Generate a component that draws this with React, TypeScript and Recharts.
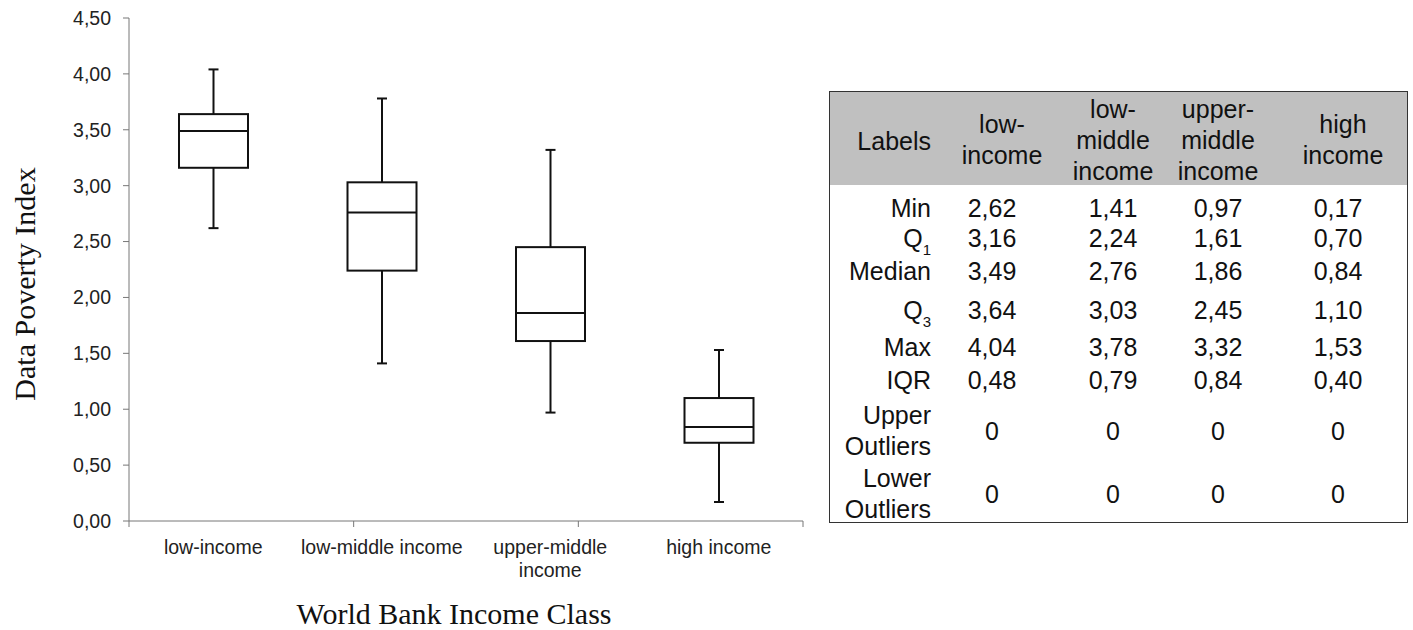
import { ComposedChart, Bar, XAxis, YAxis } from "recharts";

// box plot statistics per income class
const categories = ["low-income", "low-middle income", "upper-middle income", "high income"];
const tickLines = [["low-income"], ["low-middle income"], ["upper-middle", "income"], ["high income"]];
const headerLines = [["low-", "income"], ["low-", "middle", "income"], ["upper-", "middle", "income"], ["high", "income"]];
const minValues = [2.62, 1.41, 0.97, 0.17];
const q1Values = [3.16, 2.24, 1.61, 0.7];
const medianValues = [3.49, 2.76, 1.86, 0.84];
const q3Values = [3.64, 3.03, 2.45, 1.1];
const maxValues = [4.04, 3.78, 3.32, 1.53];
const iqrValues = [0.48, 0.79, 0.84, 0.4];
const upperOutliers = [0, 0, 0, 0];
const lowerOutliers = [0, 0, 0, 0];
const yTicks = [0, 0.5, 1, 1.5, 2, 2.5, 3, 3.5, 4, 4.5];
const edgeTicks = [0, 1, 2, 3, 4];

const data = categories.map((name, i) => ({
  name,
  min: minValues[i],
  q1: q1Values[i],
  median: medianValues[i],
  q3: q3Values[i],
  max: maxValues[i]
}));

const SANS = '"Liberation Sans", Arial, Helvetica, sans-serif';
const SERIF = '"Liberation Serif", "Times New Roman", serif';
const comma = (v: number) => v.toFixed(2).replace(".", ",");

function BoxShape(props: any) {
  const { x, y, width, height, payload } = props;
  const top = Math.min(y, y + height);
  const bottom = Math.max(y, y + height);
  const span = payload.max - payload.min;
  const toY = (v: number) => bottom - ((v - payload.min) / span) * (bottom - top);
  const cx = x + width / 2;
  const cap = 5;
  const yMax = toY(payload.max);
  const yQ3 = toY(payload.q3);
  const yMed = toY(payload.median);
  const yQ1 = toY(payload.q1);
  const yMin = toY(payload.min);
  return (
    <g stroke="#111" strokeWidth={2} fill="none">
      <line x1={cx} x2={cx} y1={yMax} y2={yQ3} />
      <line x1={cx - cap} x2={cx + cap} y1={yMax} y2={yMax} />
      <rect x={x} y={yQ3} width={width} height={yQ1 - yQ3} fill="#fff" />
      <line x1={x} x2={x + width} y1={yMed} y2={yMed} />
      <line x1={cx} x2={cx} y1={yQ1} y2={yMin} />
      <line x1={cx - cap} x2={cx + cap} y1={yMin} y2={yMin} />
    </g>
  );
}

function CategoryTick(props: any) {
  const { x, y, payload, index } = props;
  const lines = tickLines[index] ?? [payload.value];
  return (
    <text x={x} y={y} textAnchor="middle" fontFamily={SANS} fontSize={19.5} fill="#222">
      {lines.map((l, i) => (
        <tspan key={i} x={x} dy={i === 0 ? 25 : 23}>
          {l}
        </tspan>
      ))}
    </text>
  );
}

function YTitle() {
  return (
    <text
      x={24}
      y={284}
      transform="rotate(-90 24 284)"
      textAnchor="middle"
      dominantBaseline="central"
      fontFamily={SERIF}
      fontSize={30}
      fill="#111"
    >
      Data Poverty Index
    </text>
  );
}

function XTitle() {
  return (
    <text x={454} y={624} textAnchor="middle" fontFamily={SERIF} fontSize={30} fill="#111">
      World Bank Income Class
    </text>
  );
}

const tableRows = [
  { label: "Min", sub: "", values: minValues.map(comma), cy: 208 },
  { label: "Q", sub: "1", values: q1Values.map(comma), cy: 238 },
  { label: "Median", sub: "", values: medianValues.map(comma), cy: 271 },
  { label: "Q", sub: "3", values: q3Values.map(comma), cy: 310 },
  { label: "Max", sub: "", values: maxValues.map(comma), cy: 347 },
  { label: "IQR", sub: "", values: iqrValues.map(comma), cy: 380 },
  { label: "Upper\nOutliers", sub: "", values: upperOutliers.map(String), cy: 431 },
  { label: "Lower\nOutliers", sub: "", values: lowerOutliers.map(String), cy: 494 }
];

const TABLE_LEFT = 829;
const TABLE_TOP = 91;
const LABEL_RIGHT = 931;
const valueCenters = [992, 1113, 1218, 1338];
const headerCenters = [1002, 1113, 1218, 1343];
const LH = 31;

function Cell({ cx, right, cy, lines, sub }: { cx?: number; right?: number; cy: number; lines: string[]; sub?: string }) {
  const w = 220;
  const left = right !== undefined ? right - w : (cx as number) - w / 2;
  return (
    <div
      style={{
        position: "absolute",
        left: left - TABLE_LEFT - 1,
        top: cy - TABLE_TOP - 1 - (lines.length * LH) / 2,
        width: w,
        lineHeight: `${LH}px`,
        textAlign: right !== undefined ? "right" : "center",
        whiteSpace: "nowrap"
      }}
    >
      {lines.map((l, i) => (
        <div key={i}>
          {l}
          {sub && i === lines.length - 1 ? (
            <span style={{ fontSize: 15, position: "relative", top: 8 }}>{sub}</span>
          ) : null}
        </div>
      ))}
    </div>
  );
}

function StatsTable() {
  return (
    <div
      style={{
        position: "absolute",
        left: TABLE_LEFT,
        top: TABLE_TOP,
        width: 579,
        height: 432,
        boxSizing: "border-box",
        border: "1.5px solid #333",
        background: "#fff",
        fontFamily: SANS,
        fontSize: 25,
        color: "#111"
      }}
    >
      <div style={{ position: "absolute", left: 0, top: 0, right: 0, height: 93, background: "#c0c0c0" }} />
      <Cell right={LABEL_RIGHT} cy={141} lines={["Labels"]} />
      {headerLines.map((lines, i) => (
        <Cell key={i} cx={headerCenters[i]} cy={140} lines={lines} />
      ))}
      {tableRows.map((row, r) => (
        <div key={r}>
          <Cell right={LABEL_RIGHT} cy={row.cy} lines={row.label.split("\n")} sub={row.sub} />
          {row.values.map((v, i) => (
            <Cell key={i} cx={valueCenters[i]} cy={row.cy} lines={[v]} />
          ))}
        </div>
      ))}
    </div>
  );
}

export default function App() {
  return (
    <div style={{ position: "absolute", left: 0, top: 0, width: 1413, height: 630, background: "#fff" }}>
      <div style={{ position: "absolute", left: 0, top: 0 }}>
        <ComposedChart width={820} height={630} data={data} margin={{ top: 18, right: 17, bottom: 0, left: 0 }}>
          <XAxis
            xAxisId="b"
            dataKey="name"
            axisLine={false}
            tickLine={false}
            tickSize={0}
            tickMargin={0}
            height={101}
            interval={0}
            tick={<CategoryTick />}
            label={<XTitle />}
          />
          <XAxis
            xAxisId="a"
            type="number"
            domain={[0, 4]}
            ticks={edgeTicks}
            allowDataOverflow
            interval={0}
            height={8}
            tickSize={6}
            stroke="#777"
            tick={() => <g />}
          />
          <YAxis
            domain={[0, 4.5]}
            ticks={yTicks}
            interval={0}
            width={129}
            tickSize={6}
            tickMargin={12}
            stroke="#777"
            tick={{ fill: "#222", fontSize: 19.5, fontFamily: SANS }}
            tickFormatter={comma}
            label={<YTitle />}
          />
          <Bar
            xAxisId="b"
            dataKey={(d: any) => [d.min, d.max]}
            barSize={69}
            shape={<BoxShape />}
            isAnimationActive={false}
          />
        </ComposedChart>
      </div>
      <StatsTable />
    </div>
  );
}
